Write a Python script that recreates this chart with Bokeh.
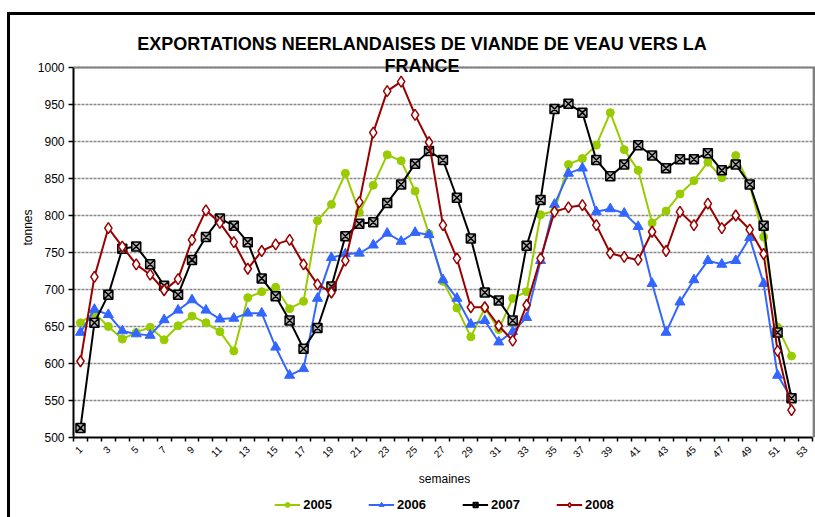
import math
from bokeh.plotting import figure
from bokeh.layouts import column
from bokeh.models import Range1d, FixedTicker, Label, Span, Legend, LegendItem
from bokeh.embed import file_html
from bokeh.resources import INLINE

weeks = list(range(1, 53))
tick_weeks = list(range(1, 54, 2))
y_ticks = list(range(500, 1001, 50))

s2005 = [655, 668, 650, 633, 642, 649, 632, 651, 664, 655, 643, 617, 689, 697, 703, 674, 684, 793, 815, 857,
         804, 841, 882, 874, 833, 775, 711, 675, 636, 675, 646, 688, 697, 801, 806, 869, 877, 895, 939, 889,
         861, 790, 806, 829, 847, 872, 851, 881, 841, 771, 649, 610]
s2006 = [642, 673, 666, 644, 640, 638, 659, 672, 686, 672, 660, 661, 668, 668, 622, 584, 593, 688, 743, 748,
         749, 760, 776, 765, 777, 774, 713, 688, 653, 658, 629, 643, 662, 739, 815, 857, 864, 805, 809, 803,
         785, 708, 642, 683, 713, 739, 734, 739, 770, 708, 584, 553]
s2007 = [513, 655, 693, 755, 758, 734, 705, 693, 740, 771, 796, 786, 764, 715, 691, 658, 620, 648, 704, 772,
         789, 791, 817, 842, 870, 887, 875, 824, 769, 696, 685, 658, 759, 821, 944, 951, 939, 875, 853, 869,
         895, 881, 864, 876, 876, 884, 861, 869, 842, 786, 642, 553]
s2008 = [603, 717, 783, 758, 734, 720, 699, 714, 767, 807, 790, 764, 728, 752, 761, 767, 734, 707, 696, 739,
         818, 912, 968, 981, 936, 899, 787, 742, 676, 676, 651, 631, 679, 742, 805, 811, 814, 787, 749, 744,
         740, 778, 752, 805, 787, 816, 783, 800, 781, 748, 617, 537]

series = [("2005", s2005, "circle", 8, "#99CC00", "#99CC00", 1),
          ("2006", s2006, "triangle", 10, "#3366FF", "#3366FF", 1),
          ("2007", s2007, "square_x", 9, "#b0b0b0", "black", 1.5),
          ("2008", s2008, "diamond", 11, "white", "#990000", 1.5)]

title1 = "EXPORTATIONS NEERLANDAISES DE VIANDE DE VEAU VERS LA"
title2 = "FRANCE"
FONT = "Liberation Sans"

Y_MIN, Y_MAX = 500, 1000
X_MIN, X_MAX = 0.5, 53.5

# main chart: frame 742 x 420 px, 0.74 px per tonne -> room above 1000 for the title
p = figure(frame_width=742, frame_height=420, output_backend="svg", toolbar_location=None,
           x_range=Range1d(X_MIN, 53.72), y_range=Range1d(Y_MIN, Y_MIN + 420 / 0.74),
           min_border_left=63, min_border_right=0, min_border_top=2, min_border_bottom=54)
p.background_fill_color = "white"
p.border_fill_color = "white"
p.outline_line_color = None

p.xaxis.ticker = FixedTicker(ticks=tick_weeks, minor_ticks=[w - 0.5 for w in range(1, 55)])
p.xaxis.major_label_overrides = {w: str(w) for w in tick_weeks}
p.xaxis.major_label_orientation = math.pi / 4
p.xaxis.bounds = (X_MIN, X_MAX)
p.xaxis.major_tick_line_color = None
p.xaxis.major_tick_out = 4
p.xaxis.minor_tick_line_color = "black"
p.xaxis.minor_tick_out = 4
p.xaxis.minor_tick_in = 0
p.xaxis.minor_tick_line_width = 1.5
p.xaxis.axis_line_width = 2
p.xaxis.axis_line_color = "black"
p.xaxis.major_label_text_font = FONT
p.xaxis.major_label_text_font_size = "10px"
p.xaxis.major_label_text_color = "black"
p.xaxis.major_label_standoff = 6
p.xaxis.axis_label = "semaines"
p.xaxis.axis_label_text_font = FONT
p.xaxis.axis_label_text_font_size = "12px"
p.xaxis.axis_label_text_font_style = "normal"
p.xaxis.axis_label_text_color = "black"
p.xaxis.axis_label_standoff = 8

p.yaxis.ticker = FixedTicker(ticks=y_ticks)
p.yaxis.bounds = (Y_MIN, Y_MAX)
p.yaxis.minor_tick_line_color = None
p.yaxis.major_tick_out = 5
p.yaxis.major_tick_in = 0
p.yaxis.major_tick_line_width = 1.5
p.yaxis.axis_line_width = 2
p.yaxis.axis_line_color = "black"
p.yaxis.major_label_text_font = FONT
p.yaxis.major_label_text_font_size = "12px"
p.yaxis.major_label_text_color = "black"
p.yaxis.major_label_standoff = 4
p.yaxis.axis_label = "tonnes"
p.yaxis.axis_label_text_font = FONT
p.yaxis.axis_label_text_font_size = "12px"
p.yaxis.axis_label_text_font_style = "normal"
p.yaxis.axis_label_text_color = "black"
p.yaxis.axis_label_standoff = 0

p.xgrid.grid_line_color = None
p.ygrid.grid_line_color = "#888888"
p.ygrid.grid_line_dash = "3 1"
p.ygrid.grid_line_width = 1.3

# plot-area border (top and right, grey)
p.add_layout(Span(location=Y_MAX, dimension="width", line_color="#808080", line_width=2))
p.segment(x0=[53.62], y0=[Y_MIN], x1=[53.62], y1=[Y_MAX], line_color="#808080", line_width=3)

for name, vals, marker, size, fill, color, lw in series:
    p.line(weeks, vals, line_color=color if name != "2005" else "#99CC00", line_width=2)
    p.scatter(weeks, vals, marker=marker, size=size, fill_color=fill, line_color=color, line_width=lw)

p.add_layout(Label(x=25.5, y=1032.4, text=title1, text_align="center", text_baseline="middle",
                   text_font=FONT, text_font_size="18px", text_font_style="bold", text_color="black"))
p.add_layout(Label(x=25.5, y=1001.4, text=title2, text_align="center", text_baseline="middle",
                   text_font=FONT, text_font_size="18px", text_font_style="bold", text_color="black"))

# legend strip: a second figure whose frame holds the legend (its copies of the series lie off-range)
lg = figure(frame_width=742, frame_height=26, output_backend="svg", toolbar_location=None,
            x_range=Range1d(-100, -99), y_range=Range1d(-100, -99),
            x_axis_type=None, y_axis_type=None,
            min_border_left=63, min_border_right=0, min_border_top=0, min_border_bottom=0)
lg.outline_line_color = None
lg.background_fill_color = "white"
lg.border_fill_color = "white"
items = []
for name, vals, marker, size, fill, color, lw in series:
    r1 = lg.line(weeks, vals, line_color=color, line_width=2)
    r2 = lg.scatter(weeks, vals, marker=marker, size=size * 0.7, fill_color=fill, line_color=color,
                    line_width=lw)
    items.append(LegendItem(label=name, renderers=[r1, r2]))

leg = Legend(items=items, orientation="horizontal", location="center",
             glyph_width=26, glyph_height=12, label_standoff=3, spacing=36,
             padding=0, margin=0, border_line_color=None, background_fill_alpha=0,
             label_text_font=FONT, label_text_font_size="13px", label_text_font_style="bold",
             label_text_color="black")
lg.add_layout(leg)

layout = column(p, lg, spacing=0,
                styles={"margin-left": "7px", "margin-top": "12px",
                        "border-left": "3px solid black", "border-top": "3px solid black"})

open("out.html", "w").write(file_html(layout, INLINE))
